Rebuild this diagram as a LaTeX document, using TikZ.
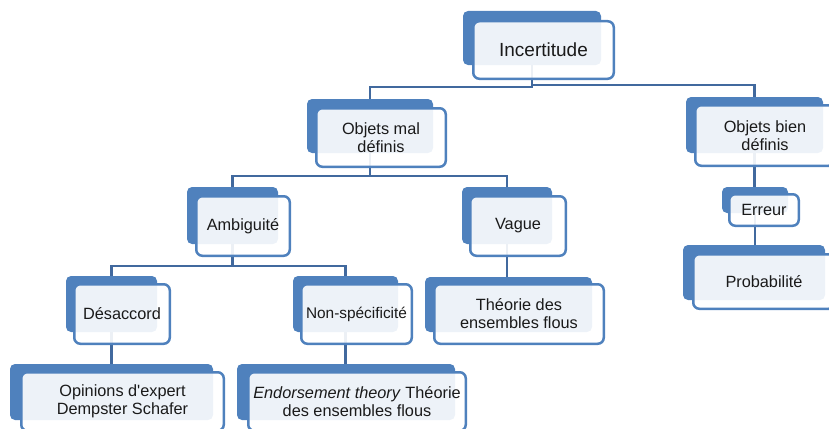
\documentclass[tikz,border=0pt]{standalone}
\usepackage{fontspec}
\setmainfont{Liberation Sans}
\newfontfamily\rawf{Liberation Sans}[Ligatures=TeXOff]
\definecolor{bk}{HTML}{4F81BD}
\definecolor{ln}{HTML}{41699E}
\definecolor{tx}{HTML}{1A1A1A}
\tikzset{
  backbx/.style={fill=bk, rounded corners=5pt, inner sep=0pt, outer sep=0pt},
  frontbx/.style={draw=bk, line width=2.5pt, fill=white, fill opacity=0.9, text opacity=1,
    rounded corners=6pt, inner sep=0pt, outer sep=0pt, align=center, text=tx,
    font=\fontsize{16.3}{18}\selectfont},
  conn/.style={draw=ln, line width=2.5pt},
}
\newcommand\backbox[5]{%
  \pgfmathsetmacro\bxx{(#2+#4)/2}\pgfmathsetmacro\bxy{(#3+#5)/2}%
  \pgfmathsetmacro\bxw{#4-#2}\pgfmathsetmacro\bxh{#5-#3}%
  \node[backbx, minimum width=\bxw pt, minimum height=\bxh pt] (#1) at (\bxx,\bxy) {};}
\newcommand\frontbox[7][]{%
  \pgfmathsetmacro\bxx{(#3+#5)/2}\pgfmathsetmacro\bxy{(#4+#6)/2}%
  \pgfmathsetmacro\bxw{#5-#3-2.5}\pgfmathsetmacro\bxh{#6-#4-2.5}%
  \node[frontbx, minimum width=\bxw pt, minimum height=\bxh pt, #1] (#2) at (\bxx,\bxy) {#7};}
\begin{document}
\begin{tikzpicture}[x=1pt, y=-1pt]
\useasboundingbox (0,0) rectangle (829,428);
% back boxes
\backbox{incB}{463}{11}{601}{65}
\backbox{malB}{307}{99}{433}{153}
\backbox{bienB}{686}{97}{823}{153}
\backbox{errB}{722}{187}{788}{213}
\backbox{probB}{683}{245}{825}{300}
\backbox{ambB}{187}{187}{278}{244}
\backbox{vagB}{462}{187}{552}{244}
\backbox{theoB}{425}{277}{592}{332}
\backbox{desB}{66}{276}{157}{332}
\backbox{nonB}{293}{276}{398}{332}
\backbox{opiB}{10}{364}{213}{420}
\backbox{endB}{237}{364}{455}{420}
% connectors
\draw[conn] (incB.south) -- ++(0,22) -| (malB.north);
\draw[conn] (incB.south) -- ++(0,20) -| (bienB.north);
\draw[conn] (malB.south) -- ++(0,23) -| (ambB.north);
\draw[conn] (malB.south) -- ++(0,23) -| (vagB.north);
\draw[conn] (ambB.south) -- ++(0,22) -| (desB.north);
\draw[conn] (ambB.south) -- ++(0,22) -| (nonB.north);
\draw[conn] (vagB.south) -- (vagB.south |- theoB.north);
\draw[conn] (desB.south) -- (desB.south |- opiB.north);
\draw[conn] (nonB.south) -- (nonB.south |- endB.north);
\draw[conn] (bienB.south) -- (bienB.south |- errB.north);
\draw[conn] (errB.south) -- (errB.south |- probB.north);
% front boxes
\frontbox[font=\fontsize{19}{21}\selectfont]{inc}{472}{20}{615}{80}{Incertitude}
\frontbox{mal}{315}{107}{447}{168}{Objets mal\\définis}
\frontbox{bien}{694}{104}{836}{167}{Objets bien\\définis}
\frontbox{err}{728}{193}{800}{227}{Erreur}
\frontbox{prob}{692}{253}{836}{310}{Probabilité}
\frontbox{amb}{195}{195}{291}{257}{Ambiguité}
\frontbox{vag}{469}{195}{567}{257}{Vague}
\frontbox{theo}{433}{283}{605}{345}{Théorie des\\ensembles flous}
\frontbox{des}{73}{283}{171}{345}{Désaccord}
\frontbox[font=\fontsize{15.4}{17}\selectfont]{non}{300}{283}{413}{345}{Non-spécificité}
\frontbox{opi}{20}{371}{225}{432}{Opinions d{\rawf'}expert\\Dempster Schafer}
\frontbox{end}{247}{371}{467}{432}{\textit{Endorsement theory} Théorie\\des ensembles flous}
\end{tikzpicture}
\end{document}
